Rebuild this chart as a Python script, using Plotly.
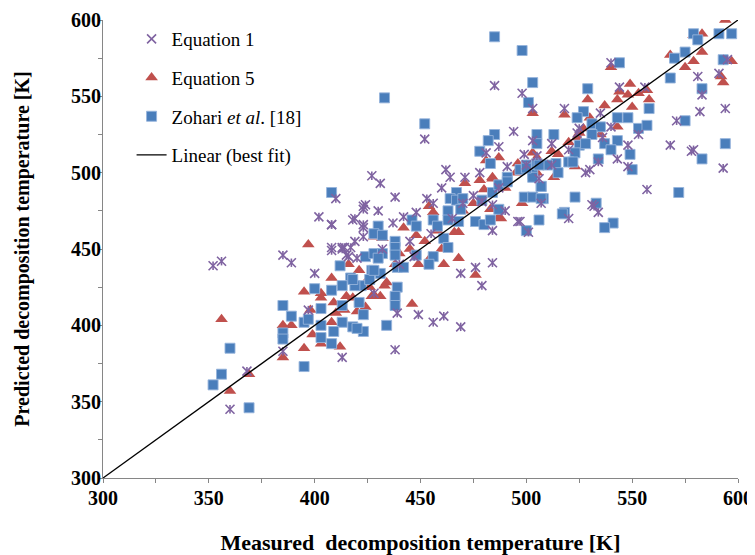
import plotly.graph_objects as go

# ---------------- data ----------------
eq1_x = [540, 544, 556, 518, 535, 581, 591, 583, 582, 594, 571, 568, 579, 593, 557, 524, 553, 548, 536, 543,
         548, 534, 530, 528, 531, 512, 506, 485, 498, 503, 494, 503, 487, 481, 499, 505, 427, 462, 471, 478,
         491, 525, 452, 431, 464, 438, 410, 423, 430, 453, 456, 479, 484, 497, 501, 484, 507, 418, 423, 442,
         437, 448, 408, 419, 414, 413, 408, 416, 420, 476, 484, 469, 479, 439, 449, 461, 532, 534, 520, 496,
         352, 356, 385, 389, 400, 402, 408, 419, 423, 424, 423, 408, 413, 417, 423, 415, 428, 360, 368, 385,
         413, 397, 456, 469, 438, 445, 455, 465, 470, 487, 490, 460, 475, 440, 432, 447, 500, 512, 520, 540,
         595, 578]
eq1_y = [572, 556, 556, 542, 539, 563, 565, 551, 540, 542, 534, 518, 515, 503, 489, 526, 525, 518, 523, 509,
         504, 507, 502, 500, 479, 519, 496, 557, 552, 542, 527, 521, 517, 513, 512, 511, 498, 502, 497, 500,
         504, 529, 522, 493, 497, 484, 483, 478, 475, 483, 480, 481, 479, 468, 461, 462, 480, 469, 464, 471,
         467, 474, 466, 455, 451, 450, 449, 445, 444, 438, 441, 434, 426, 408, 407, 406, 478, 474, 470, 468,
         439, 442, 446, 441, 434, 471, 466, 470, 466, 479, 476, 451, 451, 451, 458, 446, 421, 345, 370, 383,
         379, 410, 402, 399, 384, 455, 460, 470, 480, 490, 475, 490, 485, 440, 450, 445, 505, 505, 515, 530,
         574, 514]

eq5_x = [594, 583, 579, 583, 568, 579, 575, 597, 592, 593, 540, 549, 544, 548, 543, 553, 557, 558, 537, 550,
         529, 518, 530, 543, 525, 527, 512, 523, 513, 503, 524, 503, 505, 487, 481, 484, 496, 471, 478, 484,
         480, 454, 456, 483, 487, 442, 448, 468, 466, 432, 428, 498, 468, 461, 449, 476, 416, 421, 408, 424,
         426, 433, 434, 431, 427, 418, 415, 446, 409, 414, 410, 488, 397, 356, 395, 403, 403, 398, 420, 424,
         428, 385, 389, 360, 369, 385, 395, 399, 403, 412, 408, 440, 445, 452, 458, 463, 470, 475, 490, 495,
         505, 510, 515, 520, 535, 455, 438, 460]
eq5_y = [600, 591, 590, 579, 577, 573, 569, 573, 563, 559, 569, 558, 553, 551, 548, 552, 554, 548, 544, 543,
         548, 538, 536, 530, 526, 529, 514, 504, 497, 539, 523, 513, 510, 510, 508, 497, 506, 493, 495, 496,
         489, 478, 474, 476, 471, 464, 459, 461, 461, 457, 458, 480, 444, 440, 440, 433, 440, 436, 431, 428,
         425, 426, 428, 419, 419, 418, 419, 414, 415, 410, 408, 470, 453, 404, 422, 421, 418, 410, 409, 412,
         420, 400, 400, 357, 368, 379, 385, 394, 388, 386, 402, 447, 450, 455, 462, 468, 475, 480, 490, 500,
         500, 505, 512, 520, 525, 445, 440, 450]

zoh_x = [579, 581, 591, 597, 593, 583, 594, 583, 572, 575, 568, 570, 575, 544, 529, 527, 524, 531, 535, 543,
         548, 558, 553, 557, 513, 531, 543, 537, 540, 525, 528, 523, 549, 534, 550, 520, 522, 514, 510, 515,
         507, 508, 523, 533, 518, 485, 498, 503, 501, 433, 452, 485, 482, 505, 505, 478, 483, 497, 500, 505,
         491, 503, 408, 467, 464, 467, 470, 469, 463, 463, 468, 446, 456, 448, 458, 430, 428, 432, 438, 438,
         461, 463, 476, 480, 483, 487, 479, 484, 487, 491, 499, 503, 507, 507, 503, 500, 506, 506, 500, 424,
         428, 432, 430, 438, 448, 456, 454, 439, 442, 427, 431, 412, 417, 422, 419, 413, 426, 408, 439, 438,
         438, 421, 423, 413, 541, 537, 517, 400, 385, 389, 403, 418, 395, 413, 418, 428, 360, 356, 352, 369,
         385, 385, 395, 397, 403, 403, 408, 409, 423, 420, 434]
zoh_y = [591, 587, 591, 591, 574, 555, 519, 509, 487, 534, 562, 575, 579, 572, 555, 540, 536, 532, 530, 536,
         536, 542, 529, 531, 525, 525, 521, 519, 515, 518, 519, 513, 512, 509, 502, 507, 507, 506, 505, 500,
         491, 483, 484, 480, 474, 589, 580, 559, 546, 549, 532, 525, 521, 525, 519, 514, 506, 502, 505, 506,
         497, 499, 487, 487, 483, 482, 483, 476, 475, 469, 468, 469, 469, 465, 465, 465, 460, 459, 455, 451,
         457, 451, 468, 466, 469, 476, 482, 487, 492, 494, 484, 484, 483, 491, 497, 503, 505, 469, 462, 445,
         447, 447, 444, 446, 446, 445, 440, 438, 438, 436, 434, 439, 431, 426, 426, 426, 430, 423, 425, 419,
         413, 415, 407, 413, 467, 464, 473, 424, 413, 406, 411, 430, 402, 402, 399, 436, 385, 368, 361, 346,
         395, 391, 373, 404, 400, 392, 388, 396, 396, 398, 400]

fit_x = [300, 600]
fit_y = [300, 600]

# ---------------- figure ----------------
SERIF = "Liberation Serif, Times New Roman, serif"
purple = "#7F63A1"
red = "#C0504D"
blue = "#4A7EBB"

fig = go.Figure()

fig.add_trace(go.Scatter(
    x=eq5_x, y=eq5_y, mode="markers", name="Equation 5",
    legendgroup="g2", legendrank=2,
    marker=dict(symbol="triangle-up", size=11, color=red, line=dict(width=0))))

fig.add_trace(go.Scatter(
    x=zoh_x, y=zoh_y, mode="markers", name="Zohari <i>et al</i>. [18]",
    legendgroup="g3", legendrank=3,
    marker=dict(symbol="square", size=10, color=blue,
                line=dict(width=1, color="rgba(150,180,220,0.9)"))))

fig.add_trace(go.Scatter(
    x=eq1_x, y=eq1_y, mode="markers", name="Equation 1",
    legendgroup="g1", legendrank=1,
    marker=dict(symbol="x-thin-open", size=9, color=purple,
                line=dict(width=1.6, color=purple))))
fig.add_trace(go.Scatter(
    x=eq1_x, y=eq1_y, mode="markers", name="Equation 1",
    legendgroup="g1", legendrank=1, showlegend=False,
    marker=dict(symbol="line-ns-open", size=6, color=purple,
                line=dict(width=1.6, color=purple))))

fig.add_trace(go.Scatter(
    x=fit_x, y=fit_y, mode="lines", name="Linear (best fit)",
    legendgroup="g4", legendrank=4,
    line=dict(color="black", width=1.3)))

axis_common = dict(
    range=[300, 600], dtick=50, tick0=300,
    showgrid=False, zeroline=False, automargin=False,
    showline=True, linecolor="#868686", linewidth=1,
    ticks="outside", ticklen=4, tickcolor="#868686", tickwidth=1,
    minor=dict(dtick=25, ticks="outside", ticklen=4, tickcolor="#868686", tickwidth=1, showgrid=False),
    tickfont=dict(family=SERIF, size=20, color="black", weight="bold"),
)

fig.update_layout(
    width=747, height=547,
    margin=dict(l=95, r=17, t=12, b=77),
    paper_bgcolor="white", plot_bgcolor="white",
    showlegend=True,
    legend=dict(
        x=0.045, xanchor="left",
        y=1.0, yanchor="top",
        font=dict(family=SERIF, size=19, color="black"),
        bgcolor="rgba(255,255,255,0)",
        traceorder="grouped", tracegroupgap=11,
        itemwidth=30,
    ),
    xaxis=dict(axis_common,
               ticklabelstandoff=-2,
               title=dict(text="Measured  decomposition temperature [K]",
                          font=dict(family=SERIF, size=22, color="black", weight="bold"),
                          standoff=26)),
    yaxis=dict(axis_common,
               ticklabelstandoff=-7,
               title=dict(text="Predicted decomposition temperature [K]",
                          font=dict(family=SERIF, size=20, color="black", weight="bold"),
                          standoff=36)),
)

fig.write_html("out.html")
